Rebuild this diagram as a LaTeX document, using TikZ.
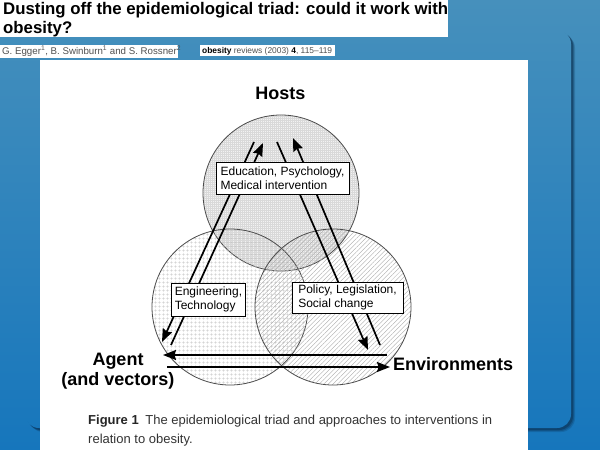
\documentclass[tikz,border=0pt]{standalone}
\usepackage{fontspec}
\setmainfont{Liberation Sans}
\usetikzlibrary{patterns.meta,arrows.meta}
\definecolor{bgtop}{HTML}{4690BC}
\definecolor{bgmid}{HTML}{26A9EC}
\definecolor{bgbot}{HTML}{1676BC}
\definecolor{shadowc}{HTML}{0A2E4F}
\definecolor{captc}{HTML}{333333}
\definecolor{authc}{HTML}{505050}
\begin{document}
\begin{tikzpicture}[x=1pt,y=-1pt,
  circ/.style={circle, draw=black!70, line width=0.8pt, minimum size=156pt, inner sep=0pt},
  arr/.style={line width=1.7pt, -{Stealth[length=13pt,width=10pt,inset=1.5pt]}},
  tbox/.style={draw=black, fill=white, line width=0.8pt, align=left,
    font=\fontsize{12}{13.5}\selectfont, inner xsep=3pt, inner ysep=2pt},
  lbl/.style={font=\bfseries\fontsize{18}{21}\selectfont, inner sep=0pt},
  plain/.style={inner sep=0pt, anchor=base west},
]
\useasboundingbox (0,0) rectangle (600,450);
% background
\shade[top color=bgtop, middle color=bgmid, bottom color=bgbot] (0,0) rectangle (600,450);
% panel shadow
\foreach \s/\o in {4/0.2, 3/0.3, 2/0.45} {
  \fill[shadowc, opacity=\o, rounded corners=14pt] (25+\s,30+\s) rectangle (571+\s,428+\s);
}
\begin{scope}
  \clip[rounded corners=14pt] (25,30) rectangle (571,428);
  \shade[top color=bgtop, middle color=bgmid, bottom color=bgbot] (0,0) rectangle (600,450);
\end{scope}
% white areas
\fill[white] (0,0) rectangle (448,37);
\fill[white] (0,45) rectangle (178,58);
\fill[white] (200,45) rectangle (335,55.5);
\fill[white] (40,60) rectangle (528,450);
% title and header
\node[plain, font=\bfseries\fontsize{16.8}{20}\selectfont] (t1) at (3,14.5) {Dusting off the epidemiological triad: could it work with};
\node[plain, font=\bfseries\fontsize{16.8}{20}\selectfont] (t2) at (3,33) {obesity?};
\node[plain, font=\fontsize{9.7}{11}\selectfont, text=authc] (auth) at (2,54.5)
  {G. Egger\textsuperscript{1}, B. Swinburn\textsuperscript{1} and S. Rossner\textsuperscript{2}};
\node[plain, font=\fontsize{8.4}{10}\selectfont, text=authc] (jour) at (202,53)
  {\textcolor{black}{\textbf{obesity}} reviews (2003) \textcolor{black}{\textbf{4}}, 115--119};
% circles
\node[circ, preaction={fill=gray!10}, pattern={Hatch[distance=2pt,line width=0.2pt]}, pattern color=gray!30] (hostc) at (281,193) {};
\node[circ, pattern={Hatch[distance=4pt,line width=0.3pt]}, pattern color=gray!50] (agentc) at (230,307) {};
\node[circ, pattern={Lines[angle=45,distance=3.2pt,line width=0.35pt]}, pattern color=gray!70] (envc) at (333,307) {};
% arrow end points
\coordinate (a1) at (254,142); \coordinate (a2) at (162,342);
\coordinate (b1) at (171,345); \coordinate (b2) at (263,143);
\coordinate (c1) at (277,142); \coordinate (c2) at (368,350);
\coordinate (d1) at (380,345); \coordinate (d2) at (293,138);
\coordinate (e1) at (387,355); \coordinate (e2) at (163,355);
\coordinate (f1) at (167,367); \coordinate (f2) at (390,367);
\draw[arr] (a1) -- (a2);
\draw[arr] (b1) -- (b2);
\draw[arr] (c1) -- (c2);
\draw[arr] (d1) -- (d2);
\draw[arr] (e1) -- (e2);
\draw[arr] (f1) -- (f2);
% boxes
\node[tbox, minimum width=133pt, minimum height=32pt] (edu) at (282.5,178) {Education, Psychology,\\Medical intervention};
\node[tbox, minimum width=73pt, minimum height=33pt] (eng) at (208.5,299.5) {Engineering,\\Technology};
\node[tbox, minimum width=111pt, minimum height=31pt] (pol) at (347.5,297.5) {Policy, Legislation,\\Social change};
% labels
\node[lbl, anchor=base] (hosts) at (280.5,99.5) {Hosts};
\node[lbl, anchor=base] (agent) at (118,365) {Agent};
\node[lbl, anchor=base] (agentv) at (118,385.5) {(and vectors)};
\node[lbl, anchor=base west] (env) at (393,370) {Environments};
% caption
\node[plain, font=\fontsize{13}{19}\selectfont, text=captc] (cap1) at (88,424.5)
  {\textcolor{black!85}{\textbf{Figure 1}}\hspace{3pt} The epidemiological triad and approaches to interventions in};
\node[plain, font=\fontsize{13}{19}\selectfont, text=captc] (cap2) at (88,443.5) {relation to obesity.};
\end{tikzpicture}
\end{document}
